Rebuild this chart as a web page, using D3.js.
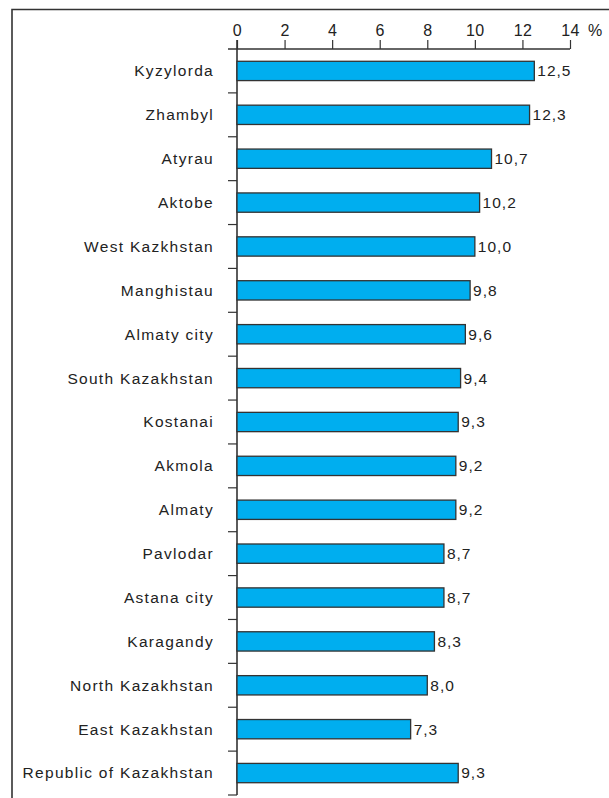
<!DOCTYPE html>
<html>
<head>
<meta charset="utf-8">
<script src="https://cdn.jsdelivr.net/npm/d3@7"></script>
<style>
  body { margin: 0; background: #fff; }
  svg { display: block; font-family: "Liberation Sans", Arial, sans-serif; }
</style>
</head>
<body>
<svg></svg>
<script>
const regions = [
  "Kyzylorda", "Zhambyl", "Atyrau", "Aktobe", "West Kazkhstan", "Manghistau",
  "Almaty city", "South Kazakhstan", "Kostanai", "Akmola", "Almaty", "Pavlodar",
  "Astana city", "Karagandy", "North Kazakhstan", "East Kazakhstan",
  "Republic of Kazakhstan"
];
const values = [12.5, 12.3, 10.7, 10.2, 10.0, 9.8, 9.6, 9.4, 9.3, 9.2, 9.2, 8.7, 8.7, 8.3, 8.0, 7.3, 9.3];
const tickValues = [0, 2, 4, 6, 8, 10, 12, 14];

const width = 609, height = 798;
const svg = d3.select("svg").attr("width", width).attr("height", height);

// frame (top + left only visible)
svg.append("path")
  .attr("d", "M12,798 V9.5 H609")
  .attr("fill", "none")
  .attr("stroke", "#333")
  .attr("stroke-width", 1.6);

const x = d3.scaleLinear().domain([0, 14]).range([237, 570]);
const y = d3.scaleBand().domain(regions).range([49, 795]).paddingInner(0.56).paddingOuter(0.28);

const fmt = (v) => v.toFixed(1).replace(".", ",");

// top axis
const xAxis = d3.axisTop(x).tickValues(tickValues).tickSize(9).tickPadding(4).tickSizeOuter(0);
const gx = svg.append("g").attr("transform", "translate(0,49)").call(xAxis);
gx.select(".domain").remove();
gx.selectAll(".tick line").attr("stroke", "#333").attr("stroke-width", 1.2);
gx.selectAll(".tick text").attr("font-size", 16).attr("fill", "#222")
  .attr("letter-spacing", 0.4)
  .attr("font-family", "'Liberation Sans', Arial, sans-serif");
gx.append("line").attr("x1", 228).attr("x2", x(14)).attr("y1", 0).attr("y2", 0)
  .attr("stroke", "#333").attr("stroke-width", 1.4);

svg.append("text").attr("x", 588).attr("y", 36).attr("font-size", 16).attr("fill", "#222").text("%");

// vertical axis with separator ticks
svg.append("line").attr("x1", x(0)).attr("x2", x(0)).attr("y1", 40).attr("y2", 795)
  .attr("stroke", "#333").attr("stroke-width", 1.6);
const boundaries = d3.range(1, regions.length + 1).map(i => 49 + i * (746 / regions.length));
svg.selectAll(".sep").data(boundaries).enter().append("line")
  .attr("class", "sep")
  .attr("x1", 228).attr("x2", x(0))
  .attr("y1", d => d).attr("y2", d => d)
  .attr("stroke", "#333").attr("stroke-width", 1.2);

// bars
svg.selectAll(".bar").data(values).enter().append("rect")
  .attr("class", "bar")
  .attr("x", x(0))
  .attr("y", (d, i) => y(regions[i]))
  .attr("width", d => x(d) - x(0))
  .attr("height", y.bandwidth())
  .attr("fill", "#00aeef")
  .attr("stroke", "#333")
  .attr("stroke-width", 1.3);

// value labels
svg.selectAll(".val").data(values).enter().append("text")
  .attr("class", "val")
  .attr("x", d => x(d) + 3)
  .attr("y", (d, i) => y(regions[i]) + y.bandwidth() / 2)
  .attr("dy", "0.35em")
  .attr("font-size", 15.5)
  .attr("letter-spacing", 1)
  .attr("fill", "#222")
  .text(fmt);

// category labels
svg.selectAll(".cat").data(regions).enter().append("text")
  .attr("class", "cat")
  .attr("x", 214)
  .attr("y", d => y(d) + y.bandwidth() / 2)
  .attr("dy", "0.35em")
  .attr("text-anchor", "end")
  .attr("font-size", 15.5)
  .attr("letter-spacing", 1.3)
  .attr("fill", "#222")
  .text(d => d);
</script>
</body>
</html>
